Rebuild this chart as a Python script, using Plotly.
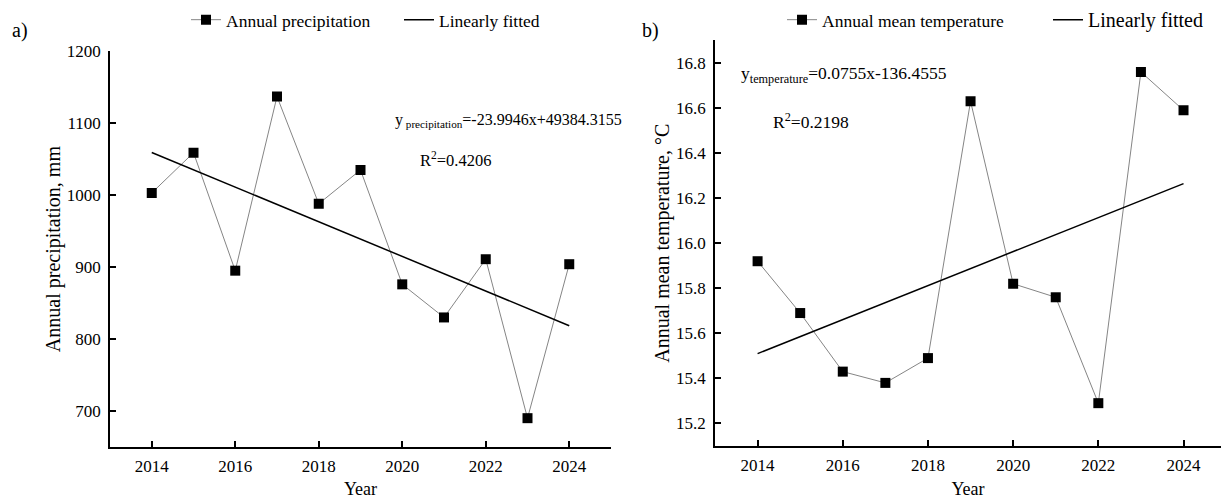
import numpy as np
import plotly.graph_objects as go

# Annual series, 2014-2024
years = [2014, 2015, 2016, 2017, 2018, 2019, 2020, 2021, 2022, 2023, 2024]
precipitation = [1003, 1059, 895, 1137, 988, 1035, 876, 830, 911, 690, 904]
temperature = [15.92, 15.69, 15.43, 15.38, 15.49, 16.63, 15.82, 15.76, 15.29, 16.76, 16.59]

year_ticks = [2014, 2016, 2018, 2020, 2022, 2024]
precip_ticks = [700, 800, 900, 1000, 1100, 1200]
temp_ticks = [15.2, 15.4, 15.6, 15.8, 16.0, 16.2, 16.4, 16.6, 16.8]
temp_tick_text = ["15.2", "15.4", "15.6", "15.8", "16.0", "16.2", "16.4", "16.6", "16.8"]

precip_eq = "y<sub> precipitation</sub>=-23.9946x+49384.3155"
precip_r2 = "R<sup>2</sup>=0.4206"
temp_eq = "y<sub>temperature</sub>=0.0755x-136.4555"
temp_r2 = "R<sup>2</sup>=0.2198"

FONT = "Liberation Serif"
W, H = 1221, 499


def px(x):
    return x / W


def py(y):
    return 1 - y / H


# least-squares trend lines
p_fit = np.polyfit(years, precipitation, 1)
t_fit = np.polyfit(years, temperature, 1)
p_trend = np.polyval(p_fit, years)
t_trend = np.polyval(t_fit, years)

series_line = dict(color="#858585", width=1)
series_marker = dict(symbol="square", size=10, color="black", line=dict(width=0))
fit_line = dict(color="black", width=1.5)

fig = go.Figure()
fig.add_trace(go.Scatter(x=years, y=precipitation, mode="lines+markers",
                         name="Annual precipitation", line=series_line,
                         marker=series_marker, xaxis="x", yaxis="y",
                         legend="legend", legendwidth=168))
fig.add_trace(go.Scatter(x=years, y=p_trend, mode="lines", name="Linearly fitted",
                         line=fit_line, xaxis="x", yaxis="y", legend="legend"))
fig.add_trace(go.Scatter(x=years, y=temperature, mode="lines+markers",
                         name="Annual mean temperature", line=series_line,
                         marker=series_marker, xaxis="x2", yaxis="y2",
                         legend="legend2", legendwidth=221))
fig.add_trace(go.Scatter(x=years, y=t_trend, mode="lines",
                         name='<span style="font-size:20px">Linearly fitted</span>',
                         line=fit_line, xaxis="x2", yaxis="y2", legend="legend2"))

axis_common = dict(showline=True, linecolor="black", linewidth=1.5, ticks="inside",
                   ticklen=6, tickwidth=1.5, tickcolor="black", showgrid=False,
                   zeroline=False, tickfont=dict(family=FONT, size=17, color="black"))

fig.update_layout(
    width=W, height=H,
    margin=dict(l=0, r=0, t=0, b=0),
    paper_bgcolor="white", plot_bgcolor="white",
    font=dict(family=FONT, size=16, color="black"),
    xaxis=dict(domain=[px(110), px(611)], range=[2013, 2025], tickvals=year_ticks,
               anchor="y", ticklabelstandoff=3,
               title=dict(text="Year", font=dict(family=FONT, size=18), standoff=10),
               **axis_common),
    yaxis=dict(domain=[py(446), py(43)], range=[650, 1200], tickvals=precip_ticks,
               anchor="x", ticklabelstandoff=4,
               title=dict(text="Annual precipitation, mm", font=dict(family=FONT, size=20),
                          standoff=1),
               **axis_common),
    xaxis2=dict(domain=[px(715), 1.0], range=[2013, 2024.88], tickvals=year_ticks,
                anchor="y2", ticklabelstandoff=3,
                title=dict(text="Year", font=dict(family=FONT, size=18), standoff=10),
                **axis_common),
    yaxis2=dict(domain=[py(445), py(32)], range=[15.1, 16.9], tickvals=temp_ticks,
                ticktext=temp_tick_text, anchor="x2", ticklabelstandoff=4,
                title=dict(text="Annual mean temperature, °C",
                           font=dict(family=FONT, size=20), standoff=1),
                **axis_common),
    legend=dict(orientation="h", x=px(186), y=py(11), xanchor="left", yanchor="middle",
                bgcolor="rgba(0,0,0,0)", font=dict(family=FONT, size=17.5),
                itemwidth=30, tracegroupgap=0),
    legend2=dict(orientation="h", x=px(782), y=py(11), xanchor="left", yanchor="middle",
                 bgcolor="rgba(0,0,0,0)", font=dict(family=FONT, size=17.5),
                 itemwidth=30, tracegroupgap=0),
    annotations=[
        dict(text="a)", x=px(10), y=py(22), xref="paper", yref="paper",
             xanchor="left", yanchor="middle", showarrow=False,
             font=dict(family=FONT, size=20)),
        dict(text="b)", x=px(640), y=py(22), xref="paper", yref="paper",
             xanchor="left", yanchor="middle", showarrow=False,
             font=dict(family=FONT, size=20)),
        dict(text=precip_eq, x=px(393), y=py(114), xref="paper", yref="paper",
             xanchor="left", yanchor="middle", showarrow=False,
             font=dict(family=FONT, size=16)),
        dict(text=precip_r2, x=px(418), y=py(153), xref="paper", yref="paper",
             xanchor="left", yanchor="middle", showarrow=False,
             font=dict(family=FONT, size=16.5)),
        dict(text=temp_eq, x=px(739), y=py(67), xref="paper", yref="paper",
             xanchor="left", yanchor="middle", showarrow=False,
             font=dict(family=FONT, size=17.5)),
        dict(text=temp_r2, x=px(771), y=py(114), xref="paper", yref="paper",
             xanchor="left", yanchor="middle", showarrow=False,
             font=dict(family=FONT, size=17.5)),
    ],
)

fig.write_html("out.html")
